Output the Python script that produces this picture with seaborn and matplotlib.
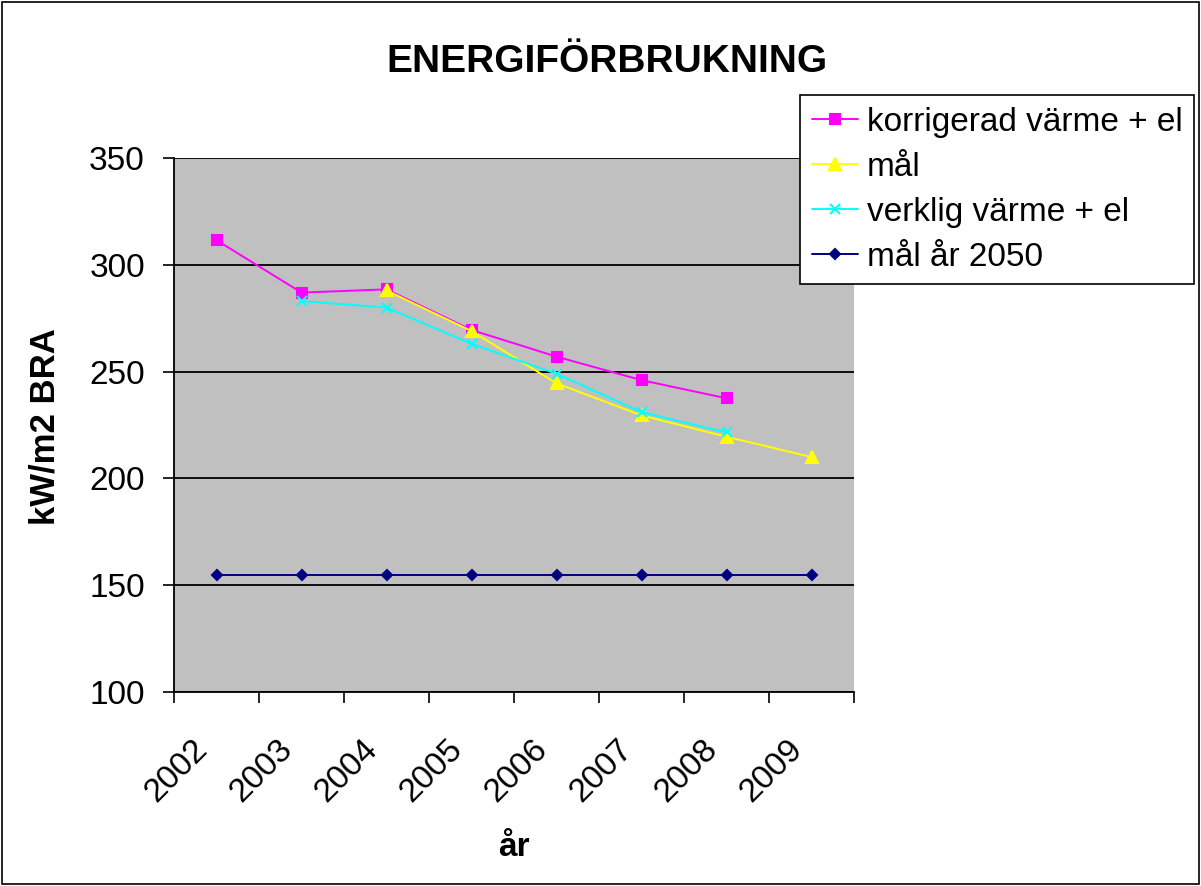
import numpy as np
import pandas as pd
import matplotlib
matplotlib.use("Agg")
import matplotlib.pyplot as plt
from matplotlib.patches import Rectangle
from matplotlib.transforms import ScaledTranslation
import seaborn as sns

# ---------------------------------------------------------------------------
# Data
# ---------------------------------------------------------------------------
YEARS = ["2002", "2003", "2004", "2005", "2006", "2007", "2008", "2009"]

KORRIGERAD = [311.5, 287, 288.5, 269.5, 257, 246, 237.5, None]
MAL = [None, None, 288, 269, 244.5, 229.5, 219.5, 210]
VERKLIG = [None, 283, 280, 263, 249, 231, 221.5, None]
MAL_2050 = [155, 155, 155, 155, 155, 155, 155, 155]

SERIES = [
    ("korrigerad värme + el", KORRIGERAD, "#FF00FF", "s", 7),
    ("mål", MAL, "#FFFF00", "^", 8),
    ("verklig värme + el", VERKLIG, "#00FFFF", "x", 7),
    ("mål år 2050", MAL_2050, "#000080", "D", 5),
]

sns.set_style("white")
plt.rcParams.update({
    "font.family": ["Liberation Sans", "DejaVu Sans"],
    "text.color": "black",
    "axes.labelcolor": "black",
    "xtick.color": "black",
    "ytick.color": "black",
})

fig = plt.figure(figsize=(12.01, 8.86), dpi=100)
W, H = 1201, 886
ax = fig.add_axes([174 / W, 1 - 692 / H, (854 - 174) / W, (692 - 158) / H])
ax.set_facecolor("#C0C0C0")

pos = np.arange(len(YEARS))
for name, vals, color, marker, ms in SERIES:
    df = pd.DataFrame({"x": pos, "y": vals}).dropna()
    sns.lineplot(data=df, x="x", y="y", ax=ax, color=color, marker=marker,
                 markersize=ms, markeredgecolor=color, markeredgewidth=1.5,
                 linewidth=1.4, label=name)

ax.set_ylim(100, 350)
ax.set_yticks([100, 150, 200, 250, 300, 350])
ax.set_xlim(-0.5, len(YEARS) - 0.5)
ax.set_xticks(pos)
ax.set_xticks(np.arange(-0.5, len(YEARS)), minor=True)
ax.tick_params(axis="x", which="major", length=0, labelsize=24, pad=34)
ax.tick_params(axis="x", which="minor", length=8, width=1.2, color="black",
               direction="out", bottom=True)
ax.tick_params(axis="y", labelsize=24, length=8, width=1.2, direction="out",
               left=True, color="black", pad=13)
ax.set_xticklabels(YEARS, rotation=45, ha="right", va="center",
                   rotation_mode="anchor")
# nudge the rotated year labels so they sit left of the category centre
shift = ScaledTranslation(-14 / 100, -5 / 100, fig.dpi_scale_trans)
for lbl in ax.get_xticklabels():
    lbl.set_transform(lbl.get_transform() + shift)

ax.grid(axis="y", color="black", linewidth=1.3)
ax.set_axisbelow(True)
for s in ["top", "right"]:
    ax.spines[s].set_visible(False)
for s in ["left", "bottom"]:
    ax.spines[s].set_color("black")
    ax.spines[s].set_linewidth(1.3)

ax.set_xlabel("år", fontsize=24, fontweight="bold")
ax.xaxis.set_label_coords(0.5, -(848 - 692) / 534, transform=ax.transAxes)
ax.xaxis.label.set_va("center")
ax.set_ylabel("kW/m2 BRA", fontsize=25, fontweight="bold")
ax.yaxis.set_label_coords((45 - 174) / 680, (692 - 427) / 534,
                          transform=ax.transAxes)
ax.yaxis.label.set_va("center")
fig.text(607 / W, 1 - 62 / H, "ENERGIFÖRBRUKNING", fontsize=28,
         fontweight="bold", ha="center", va="center")

leg = ax.legend(loc="upper left", bbox_to_anchor=(800 / W, 1 - 95 / H),
                bbox_transform=fig.transFigure, fontsize=24, frameon=True,
                fancybox=False, edgecolor="black", framealpha=1,
                handlelength=1.4, borderpad=0.35, labelspacing=0.42,
                handletextpad=0.25, borderaxespad=0)
leg.get_frame().set_linewidth(1.2)

# outer border of the chart area
fig.patches.append(Rectangle((0.002, 0.002), 0.996, 0.996, fill=False,
                             edgecolor="black", linewidth=1.2,
                             transform=fig.transFigure))

fig.savefig("out.png", dpi=100)
